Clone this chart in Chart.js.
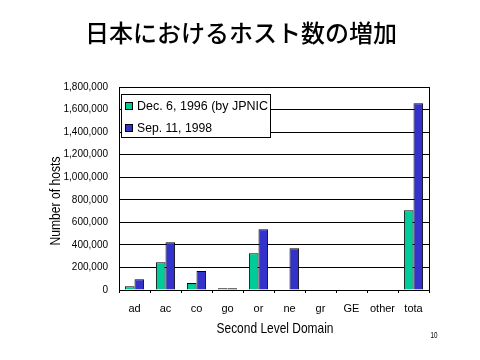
<!DOCTYPE html>
<html>
<head>
<meta charset="utf-8">
<script src="https://cdn.jsdelivr.net/npm/chart.js@4/dist/chart.umd.min.js"></script>
<style>
  html, body { margin: 0; padding: 0; background: #fff; }
  #wrap { width: 480px; height: 360px; }
</style>
</head>
<body>
<div id="wrap"><canvas id="chart" width="480" height="360"></canvas></div>
<script>
// Data
const domains = ['ad', 'ac', 'co', 'go', 'or', 'ne', 'gr', 'GE', 'other', 'tota'];
const hosts1996 = [33000, 246000, 62000, 15000, 325000, 0, 0, 0, 0, 707000];
const hosts1998 = [95000, 423000, 168000, 15000, 538000, 370000, 0, 5000, 0, 1655000];
const seriesLabels = ['Dec. 6, 1996 (by JPNIC', 'Sep. 11, 1998'];
const yTicks = [0, 200000, 400000, 600000, 800000, 1000000, 1200000, 1400000, 1600000, 1800000];

const SANS = "'Liberation Sans', Arial, sans-serif";
const GREEN = '#00CC99';
const BLUE = '#3333CC';

// draw text squeezed horizontally to a given width (slide font is condensed)
function squeezeText(ctx, text, x, y, width, align) {
    const w = ctx.measureText(text).width;
    const k = Math.min(1, width / w);
    ctx.save();
    ctx.translate(x, y);
    ctx.scale(k, 1);
    ctx.textAlign = align;
    ctx.fillText(text, 0, 0);
    ctx.restore();
}

// title, axis titles, boxed legend and page number
const slideDecor = {
    id: 'slideDecor',
    beforeDatasetsDraw: function (chart) {
        const ctx = chart.ctx;
        const a = chart.chartArea;
        ctx.save();
        ctx.strokeStyle = '#000';
        ctx.lineWidth = 1;
        ctx.beginPath();
        ctx.moveTo(Math.round(a.right) + 0.5, a.top);
        ctx.lineTo(Math.round(a.right) + 0.5, a.bottom);
        ctx.stroke();
        ctx.restore();
    },
    afterDraw: function (chart) {
        const ctx = chart.ctx;
        ctx.save();
        ctx.fillStyle = '#000';
        ctx.textAlign = 'center';
        ctx.textBaseline = 'middle';

        ctx.font = "500 24px 'Noto Sans CJK JP', sans-serif";
        ctx.fillText('日本におけるホスト数の増加', 241, 33);

        ctx.font = '15px ' + SANS;
        squeezeText(ctx, 'Second Level Domain', 275, 329, 117, 'center');

        ctx.save();
        ctx.translate(56, 201);
        ctx.rotate(-Math.PI / 2);
        ctx.font = '14px ' + SANS;
        squeezeText(ctx, 'Number of hosts', 0, 0, 89, 'center');
        ctx.restore();

        ctx.font = '9px ' + SANS;
        squeezeText(ctx, '10', 434, 336, 7, 'center');

        // legend box
        ctx.fillStyle = '#fff';
        ctx.fillRect(121, 94, 149, 43);
        ctx.strokeStyle = '#000';
        ctx.lineWidth = 1;
        ctx.strokeRect(121.5, 94.5, 149, 43);
        ctx.font = '13px ' + SANS;
        const widths = [131, 75];
        chart.data.datasets.forEach(function (ds, i) {
            const y = 102 + i * 22;
            ctx.fillStyle = ds.backgroundColor;
            ctx.fillRect(125, y, 8, 8);
            ctx.strokeRect(125.5, y + 0.5, 7, 7);
            ctx.fillStyle = '#000';
            squeezeText(ctx, ds.label, 137, y + 4.5, widths[i], 'left');
        });
        ctx.restore();
    }
};

new Chart(document.getElementById('chart'), {
    type: 'bar',
    data: {
        labels: domains,
        datasets: [{
            label: seriesLabels[0],
            data: hosts1996,
            backgroundColor: GREEN,
            borderColor: '#000',
            borderWidth: 1,
            categoryPercentage: 0.62,
            barPercentage: 1.0,
        }, {
            label: seriesLabels[1],
            data: hosts1998,
            backgroundColor: BLUE,
            borderColor: '#000',
            borderWidth: 1,
            categoryPercentage: 0.62,
            barPercentage: 1.0,
        }],
    },
    options: {
        responsive: false,
        animation: false,
        layout: {
            padding: { left: 0, top: 87, right: 51, bottom: 0 },
        },
        plugins: {
            legend: { display: false },
            title: { display: false },
            tooltip: { enabled: false },
        },
        scales: {
            x: {
                afterFit: function (scale) { scale.height = 70; },
                grid: {
                    display: true,
                    drawOnChartArea: false,
                    drawTicks: true,
                    tickLength: 3,
                    color: '#000',
                },
                border: { display: true, color: '#000', width: 1 },
                ticks: {
                    color: '#000',
                    padding: 9,
                    font: { family: SANS, size: 11 },
                    maxRotation: 0,
                    autoSkip: false,
                },
            },
            y: {
                min: 0,
                max: 1800000,
                afterFit: function (scale) { scale.width = 119; },
                afterBuildTicks: function (scale) {
                    scale.ticks = yTicks.map(function (v) { return { value: v }; });
                },
                grid: {
                    color: '#000',
                    lineWidth: 1,
                    drawTicks: false,
                },
                border: { display: true, color: '#000', width: 1 },
                ticks: {
                    color: '#000',
                    padding: 11,
                    font: { family: SANS, size: 10 },
                    callback: function (v) { return v.toLocaleString('en-US'); },
                },
            },
        },
    },
    plugins: [slideDecor],
});
</script>
</body>
</html>
